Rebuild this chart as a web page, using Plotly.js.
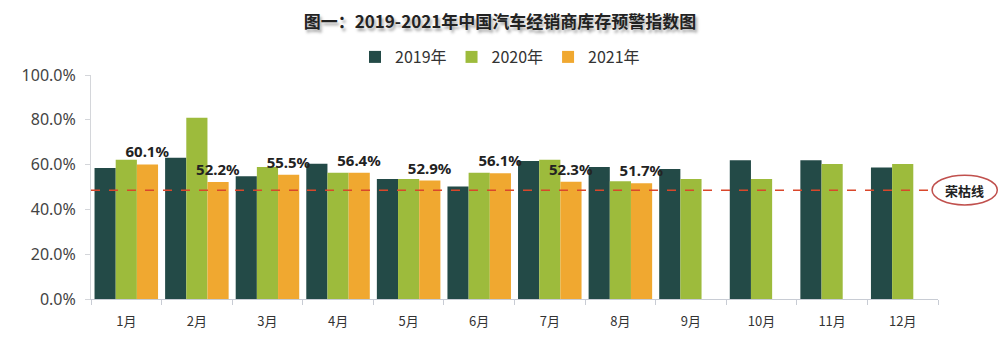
<!DOCTYPE html>
<html>
<head>
<meta charset="utf-8">
<script src="https://cdn.plot.ly/plotly-3.0.1.min.js"></script>
<style>
html,body{margin:0;padding:0;background:#fff;}
#chart{width:1000px;height:354px;}
.gtitle{text-shadow:2px 3px 3px rgba(0,0,0,0.35);}
</style>
</head>
<body>
<div id="chart"></div>
<script>
const months = ['1月','2月','3月','4月','5月','6月','7月','8月','9月','10月','11月','12月'];
const series2019 = [0.585,0.631,0.548,0.604,0.536,0.502,0.616,0.589,0.580,0.619,0.619,0.587];
const series2020 = [0.622,0.809,0.589,0.564,0.536,0.564,0.622,0.526,0.536,0.536,0.603,0.603];
const series2021 = [0.601,0.522,0.555,0.564,0.529,0.561,0.523,0.517];
const seriesNames = ['2019年','2020年','2021年'];
const colors = ['#234a47','#9dbb3c','#f0a830'];
const boomBustLine = 0.486;
const boomBustLabel = '荣枯线';
const titleText = '图一：2019-2021年中国汽车经销商库存预警指数图';

const fontFam = '"Noto Sans CJK SC","Noto Sans",sans-serif';

const traces = [
  {type:'bar', name:seriesNames[0], x:months, y:series2019, marker:{color:colors[0]}, hoverinfo:'skip'},
  {type:'bar', name:seriesNames[1], x:months, y:series2020, marker:{color:colors[1]}, hoverinfo:'skip'},
  {type:'bar', name:seriesNames[2], x:months.slice(0,series2021.length), y:series2021, marker:{color:colors[2]},
   text:series2021.map(v=>(v*100).toFixed(1)+'%'), textposition:'outside', cliponaxis:false, constraintext:'none',
   textfont:{family:'"Noto Sans","Noto Sans CJK SC",sans-serif', size:15, color:'#222', weight:'bold'},
   hoverinfo:'skip'}
];

const layout = {
  width:1000, height:354,
  margin:{l:91, r:62, t:75, b:55},
  paper_bgcolor:'#fff', plot_bgcolor:'#fff',
  barmode:'group', bargap:0.1, bargroupgap:0,
  uniformtext:{mode:false},
  title:{text:'<b>'+titleText+'</b>', x:0.5, xref:'container', xanchor:'center', y:(354-22)/354, yref:'container', yanchor:'middle',
         font:{family:fontFam, size:17, color:'#222'}},
  showlegend:true,
  legend:{orientation:'h', xref:'container', x:0.5, xanchor:'center', yref:'container', y:(354-57)/354, yanchor:'middle',
          font:{family:fontFam, size:16, color:'#333'}, itemwidth:30, traceorder:'normal'},
  xaxis:{type:'category', showline:true, linecolor:'#c8ccd4', linewidth:1, ticks:'outside', tickson:'boundaries',
         ticklen:5, tickcolor:'#c8ccd4', showgrid:false, zeroline:false, ticklabelstandoff:10,
         tickfont:{family:fontFam, size:13, color:'#333'}, fixedrange:true},
  yaxis:{range:[0,1], dtick:0.2, tickformat:'.1%', showline:true, linecolor:'#d4d6da', linewidth:1,
         ticks:'outside', ticklen:5, tickcolor:'#d4d6da', showgrid:false, zeroline:false,
         tickfont:{family:'"Noto Sans",sans-serif', size:16, color:'#444'}, ticklabelstandoff:6, fixedrange:true},
  shapes:[
    {type:'line', xref:'paper', yref:'y', x0:0, x1:0.993, y0:boomBustLine, y1:boomBustLine,
     line:{color:'#d9472b', width:1.5, dash:'dash'}},
    {type:'circle', xref:'paper', yref:'paper', x0:0.993, x1:1.07, y0:0.42, y1:0.553,
     line:{color:'#c0504d', width:1.5}, fillcolor:'rgba(0,0,0,0)'}
  ],
  annotations:[
    {xref:'paper', yref:'y', x:1.0315, y:boomBustLine, text:'<b>'+boomBustLabel+'</b>', showarrow:false,
     font:{family:fontFam, size:13, color:'#222'}, xanchor:'center', yanchor:'middle'}
  ]
};

Plotly.newPlot('chart', traces, layout, {displayModeBar:false, staticPlot:true});
</script>
</body>
</html>
